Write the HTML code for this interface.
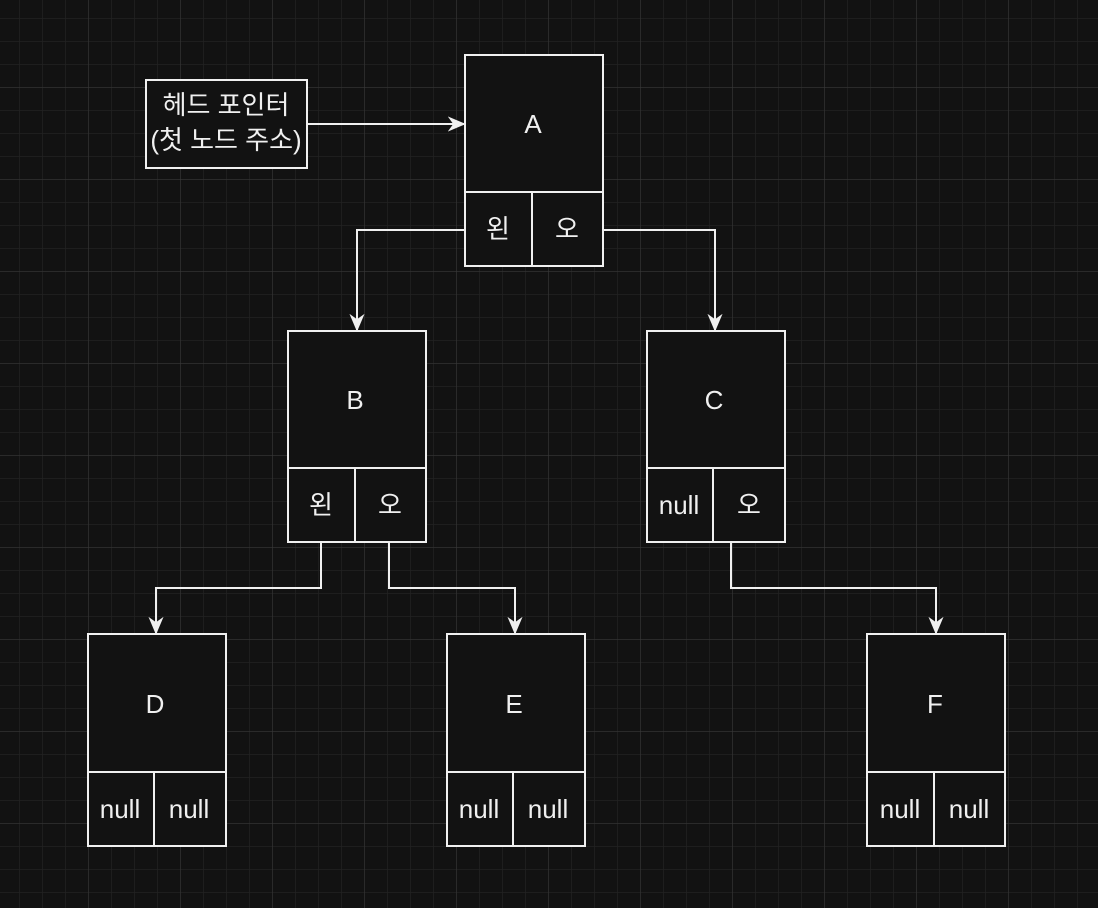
<!DOCTYPE html>
<html><head><meta charset="utf-8"><style>
html,body{margin:0;padding:0;background:#121212;}
svg{display:block}
text{font-family:"Liberation Sans","Noto Sans CJK KR",sans-serif;fill:#f0f0f0;text-anchor:middle;dominant-baseline:central}
</style></head><body>
<svg width="1098" height="908" viewBox="0 0 1098 908" xmlns="http://www.w3.org/2000/svg">
<defs>
<pattern id="minor" x="-4" y="-5" width="23" height="23" patternUnits="userSpaceOnUse">
<path d="M0 0H23M0 0V23" stroke="#222" stroke-width="1.5" fill="none"/>
</pattern>
<pattern id="major" x="-4" y="-5" width="92" height="92" patternUnits="userSpaceOnUse">
<path d="M0 0H92M0 0V92" stroke="#3a3a3a" stroke-width="1" fill="none"/>
</pattern>
<marker id="ar" viewBox="0 0 10 10" refX="9" refY="5" markerWidth="18" markerHeight="18" markerUnits="userSpaceOnUse" orient="auto">
<path d="M0 0.8L10 5L0 9.2L3 5Z" fill="#f0f0f0"/>
</marker>
</defs>
<rect width="1098" height="908" fill="#121212"/>
<rect width="1098" height="908" fill="url(#minor)"/>
<rect width="1098" height="908" fill="url(#major)"/>
<g fill="none" stroke="#f0f0f0" stroke-width="2">
<path d="M307 124H464" marker-end="url(#ar)"/>
<path d="M465 230H357V330" marker-end="url(#ar)"/>
<path d="M603 230H715V330" marker-end="url(#ar)"/>
<path d="M321 542V588H156V633" marker-end="url(#ar)"/>
<path d="M389 542V588H515V633" marker-end="url(#ar)"/>
<path d="M731 542V588H936V633" marker-end="url(#ar)"/>
</g>
<g fill="#121212" stroke="#f0f0f0" stroke-width="2">
<rect x="146" y="80" width="161" height="88"/>
<rect x="465" y="55" width="138" height="211"/><path d="M465 192H603M532 192V266"/>
<rect x="288" y="331" width="138" height="211"/><path d="M288 468H426M355 468V542"/>
<rect x="647" y="331" width="138" height="211"/><path d="M647 468H785M713 468V542"/>
<rect x="88" y="634" width="138" height="212"/><path d="M88 772H226M154 772V846"/>
<rect x="447" y="634" width="138" height="212"/><path d="M447 772H585M513 772V846"/>
<rect x="867" y="634" width="138" height="212"/><path d="M867 772H1005M934 772V846"/>
</g>
<g font-size="26">
<text x="226" y="105">헤드 포인터</text>
<text x="226" y="140">(첫 노드 주소)</text>
<text x="533" y="124">A</text><text x="498" y="229">왼</text><text x="567" y="229">오</text>
<text x="355" y="400">B</text><text x="321" y="505">왼</text><text x="390" y="505">오</text>
<text x="714" y="400">C</text><text x="679" y="505">null</text><text x="749" y="505">오</text>
<text x="155" y="704">D</text><text x="120" y="809">null</text><text x="189" y="809">null</text>
<text x="514" y="704">E</text><text x="479" y="809">null</text><text x="548" y="809">null</text>
<text x="935" y="704">F</text><text x="900" y="809">null</text><text x="969" y="809">null</text>
</g>
</svg>
</body></html>
